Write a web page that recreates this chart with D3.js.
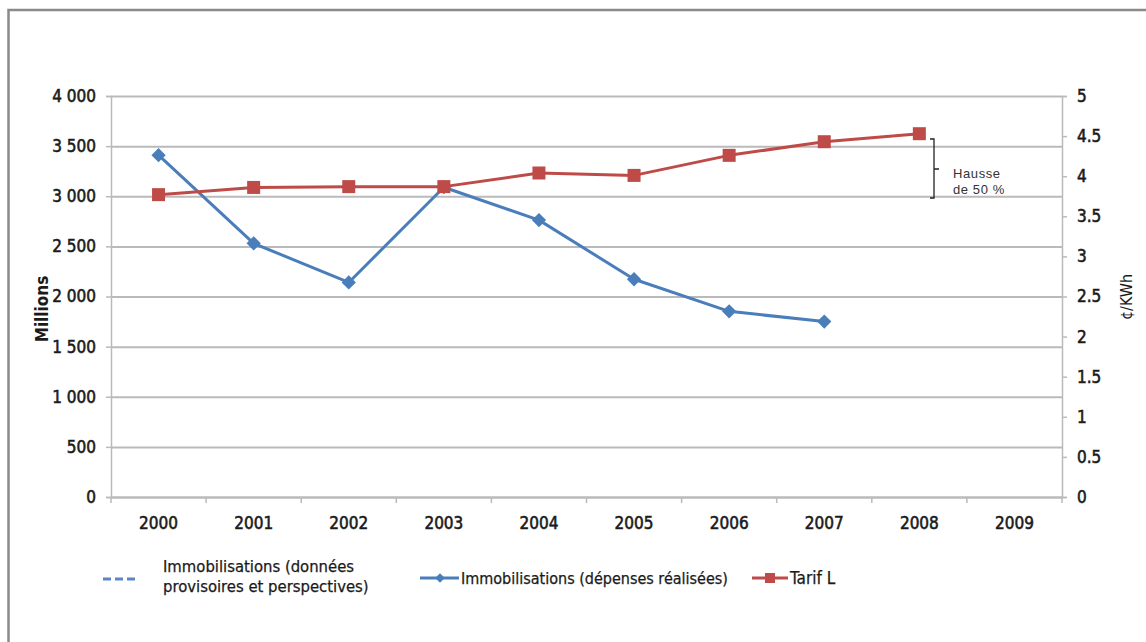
<!DOCTYPE html>
<html>
<head>
<meta charset="utf-8">
<script src="https://cdn.jsdelivr.net/npm/d3@7"></script>
<style>
  html, body { margin: 0; padding: 0; background: #fff; }
  svg { display: block; }
  .lbl { font-family: "Liberation Sans Narrow", "DejaVu Sans Condensed", "Liberation Sans", Arial, sans-serif; fill: #1a1a1a; }
  .tk { stroke: #1a1a1a; stroke-width: 0.55px; }
  .lg { stroke: #1a1a1a; stroke-width: 0.25px; }
</style>
</head>
<body>
<svg id="chart" width="1146" height="642"></svg>
<script>
// Years on the category axis
const years = ["2000", "2001", "2002", "2003", "2004", "2005", "2006", "2007", "2008", "2009"];
// Capital expenditure carried out (millions)
const immobilisations = [3410, 2530, 2140, 3090, 2762, 2172, 1852, 1750, null, null];
// Rate L (cents per kWh)
const tarifL = [3.77, 3.86, 3.87, 3.87, 4.04, 4.01, 4.26, 4.43, 4.53, null];
// Axis ticks
const leftTicks = [0, 500, 1000, 1500, 2000, 2500, 3000, 3500, 4000];
const rightTicks = [0, 0.5, 1, 1.5, 2, 2.5, 3, 3.5, 4, 4.5, 5];
// Legend entries
const legendLabels = [
  ["Immobilisations (données", "provisoires et perspectives)"],
  ["Immobilisations (dépenses réalisées)"],
  ["Tarif L"]
];
const bracketLabel = ["Hausse", "de 50 %"];

const svg = d3.select("#chart");
const plotL = 111, plotR = 1062, plotT = 96, plotB = 497;
const blue = "#4a7ebb", red = "#be4b48", grid = "#bababa";

const x = d3.scaleBand().domain(years).range([plotL, plotR]);
const yL = d3.scaleLinear().domain([0, 4000]).range([plotB, plotT]);
const yR = d3.scaleLinear().domain([0, 5]).range([plotB, plotT]);
const fr = d3.formatLocale({ decimal: ".", thousands: " ", grouping: [3], currency: ["", ""] });

// Outer frame
svg.append("rect").attr("x", 8.5).attr("y", 10).attr("width", 1150).attr("height", 650)
  .attr("fill", "none").attr("stroke", "#8a8a8a").attr("stroke-width", 2.5);

// Left axis with gridlines across the plot
const gL = svg.append("g").attr("transform", `translate(${plotL},0)`)
  .call(d3.axisLeft(yL).tickValues(leftTicks).tickSize(5).tickPadding(10).tickFormat(fr.format(",")));
gL.selectAll(".tick line").attr("stroke", grid).attr("stroke-width", 1.5);
gL.select(".domain").attr("stroke", grid).attr("stroke-width", 1.5);
gL.selectAll(".tick text").attr("class", "lbl tk").style("font-size", "17px");
gL.selectAll(".tick").append("line")
  .attr("x1", 0).attr("x2", plotR - plotL).attr("stroke", grid).attr("stroke-width", 2);

// Right axis
const gR = svg.append("g").attr("transform", `translate(${plotR},0)`)
  .call(d3.axisRight(yR).tickValues(rightTicks).tickSize(5).tickPadding(10).tickFormat(d3.format("")));
gR.selectAll(".tick line").attr("stroke", grid).attr("stroke-width", 1.5);
gR.select(".domain").attr("stroke", grid).attr("stroke-width", 1.5);
gR.selectAll(".tick text").attr("class", "lbl tk").style("font-size", "17px");

// Bottom axis, ticks between categories
const gB = svg.append("g").attr("transform", `translate(0,${plotB})`)
  .call(d3.axisBottom(x).tickSize(0).tickPadding(20));
gB.select(".domain").attr("stroke", grid).attr("stroke-width", 2);
gB.selectAll(".tick text").attr("class", "lbl tk").style("font-size", "17px");
gB.selectAll(".sep").data(years.map(y => x(y)).concat([plotR]))
  .join("line").attr("class", "sep")
  .attr("x1", d => d).attr("x2", d => d).attr("y1", 0).attr("y2", 6)
  .attr("stroke", grid).attr("stroke-width", 1.5);

// Axis titles
svg.append("text").attr("class", "lbl")
  .attr("transform", "translate(48,309) rotate(-90)")
  .attr("text-anchor", "middle").style("font-size", "17px").style("font-weight", "bold")
  .text("Millions");
svg.append("text").attr("class", "lbl")
  .attr("transform", "translate(1132,297) rotate(-90)")
  .attr("text-anchor", "middle").style("font-size", "16px")
  .text("¢/KWh");

const cx = d => x(d) + x.bandwidth() / 2;

// Expenditure series
const blueData = years.map((y, i) => ({ y, v: immobilisations[i] })).filter(d => d.v != null);
svg.append("path").datum(blueData)
  .attr("fill", "none").attr("stroke", blue).attr("stroke-width", 3).attr("stroke-linejoin", "round")
  .attr("d", d3.line().x(d => cx(d.y)).y(d => yL(d.v)));
svg.selectAll(".dia").data(blueData).join("path").attr("class", "dia")
  .attr("transform", d => `translate(${cx(d.y)},${yL(d.v)})`)
  .attr("d", d3.symbol(d3.symbolDiamond2, 130)).attr("fill", blue);

// Rate series
const redData = years.map((y, i) => ({ y, v: tarifL[i] })).filter(d => d.v != null);
svg.append("path").datum(redData)
  .attr("fill", "none").attr("stroke", red).attr("stroke-width", 3).attr("stroke-linejoin", "round")
  .attr("d", d3.line().x(d => cx(d.y)).y(d => yR(d.v)));
svg.selectAll(".sq").data(redData).join("rect").attr("class", "sq")
  .attr("x", d => cx(d.y) - 6.5).attr("y", d => yR(d.v) - 6.5)
  .attr("width", 13).attr("height", 13).attr("fill", red);

// Bracket marking the rise
const bx = 934, b1 = 139, b2 = 198, bm = 169;
svg.append("path")
  .attr("d", `M${bx - 4},${b1}H${bx}V${b2}H${bx - 4}M${bx},${bm}H${bx + 5}`)
  .attr("fill", "none").attr("stroke", "#222").attr("stroke-width", 1.3);
svg.selectAll(".hz").data(bracketLabel).join("text").attr("class", "hz")
  .attr("x", 953).attr("y", (d, i) => 178 + i * 16)
  .style("font-family", "'Liberation Sans', Arial, sans-serif").style("font-size", "13px")
  .style("letter-spacing", "0.6px").attr("fill", "#333").text(d => d);

// Legend
const lg = svg.append("g");
lg.append("line").attr("x1", 103).attr("x2", 136).attr("y1", 579).attr("y2", 579)
  .attr("stroke", "#5b87c0").attr("stroke-width", 3).attr("stroke-dasharray", "8,4");
lg.selectAll(".l0").data(legendLabels[0]).join("text").attr("class", "lbl lg l0")
  .attr("x", 163).attr("y", (d, i) => 572 + i * 20).style("font-size", "16.5px").text(d => d);

lg.append("line").attr("x1", 420).attr("x2", 459).attr("y1", 578).attr("y2", 578)
  .attr("stroke", blue).attr("stroke-width", 3);
lg.append("path").attr("transform", "translate(440,578)")
  .attr("d", d3.symbol(d3.symbolDiamond2, 60)).attr("fill", blue);
lg.append("text").attr("class", "lbl lg").attr("x", 461).attr("y", 584)
  .style("font-size", "16px").text(legendLabels[1][0]);

lg.append("line").attr("x1", 752).attr("x2", 788).attr("y1", 578).attr("y2", 578)
  .attr("stroke", red).attr("stroke-width", 3);
lg.append("rect").attr("x", 765).attr("y", 573).attr("width", 10).attr("height", 10).attr("fill", red);
lg.append("text").attr("class", "lbl lg").attr("x", 790).attr("y", 584)
  .style("font-size", "17px").text(legendLabels[2][0]);
</script>
</body>
</html>
